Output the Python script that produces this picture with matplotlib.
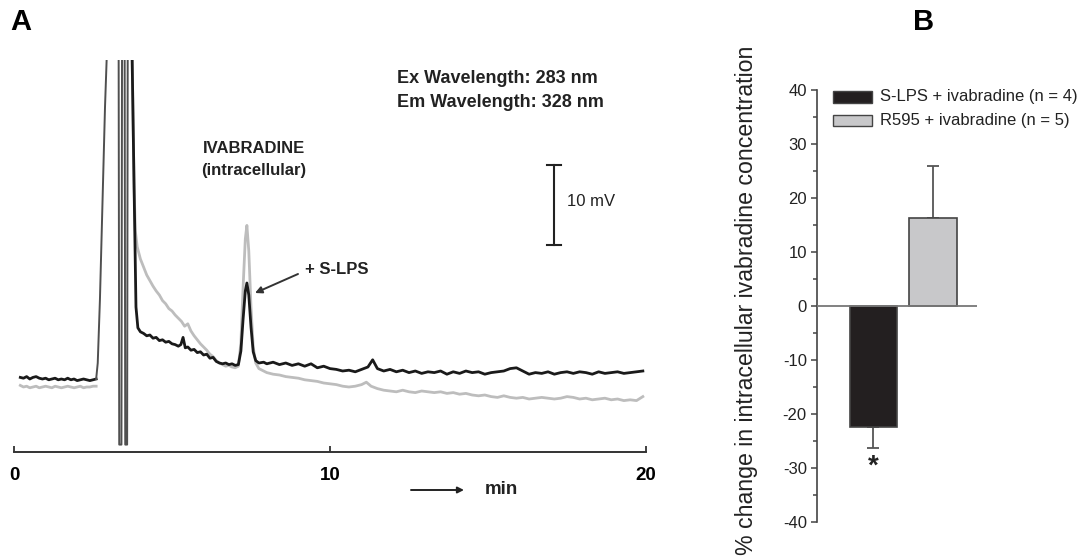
import matplotlib
matplotlib.use('Agg')
import numpy as np
import matplotlib.pyplot as plt
from matplotlib.patches import Rectangle

plt.rcParams['font.family'] = ['Liberation Sans', 'DejaVu Sans']
plt.rcParams['axes.unicode_minus'] = False

W, H = 1086, 558

# ---- panel A : chromatogram (time in min, signal in mV) ----
pre_t = [0.2, 0.3, 0.4, 0.5, 0.6, 0.7, 0.8, 0.9, 1.0, 1.1, 1.2, 1.3, 1.4,
         1.5, 1.6, 1.7, 1.8, 1.9, 2.0, 2.1, 2.2, 2.3, 2.4, 2.5, 2.6]
black_pre = [0.2, 0.1, 0.3, 0.0, 0.2, 0.3, 0.1, 0.0, 0.1, -0.1, 0.0, 0.1, -0.1,
             0.0, -0.1, 0.1, -0.1, 0.0, -0.2, -0.1, 0.0, -0.1, -0.2, -0.1, 0.0]
gray_pre = [-0.8, -1.0, -0.9, -1.1, -1.0, -0.9, -1.1, -1.0, -0.9, -1.0, -1.1, -0.9, -1.0,
            -1.1, -1.0, -0.9, -1.0, -1.1, -1.0, -0.9, -1.1, -1.0, -1.0, -0.9, -0.9]

# injection artefact (off scale)
inj_t = [2.6, 2.65, 2.72, 2.8, 2.88, 2.95, 3.0, 3.31, 3.33, 3.40, 3.42, 3.50,
         3.52, 3.58, 3.60, 3.66]
inj_mv = [0.0, 2.0, 10.0, 22.0, 34.0, 42.0, 45.0, 45.0, -8.2, -8.2, 45.0, 45.0,
          -8.2, -8.2, 45.0, 45.0]

black_t = [3.72, 3.80, 3.86, 3.92, 4.0, 4.1, 4.2, 4.3, 4.4, 4.5, 4.6, 4.7, 4.8, 4.9, 5.0,
           5.1, 5.2, 5.28, 5.35, 5.42, 5.5, 5.6, 5.7, 5.8, 5.9, 6.0, 6.1, 6.2, 6.3,
           6.4, 6.5, 6.6, 6.7, 6.8, 6.9, 7.0, 7.1, 7.18, 7.25, 7.32, 7.37, 7.43, 7.5,
           7.57, 7.65, 7.75, 7.9, 8.0, 8.2, 8.4, 8.6, 8.8, 9.0, 9.2, 9.4, 9.6, 9.8,
           10.0, 10.2, 10.4, 10.6, 10.8, 11.0, 11.2, 11.35, 11.5, 11.7, 11.9, 12.1,
           12.3, 12.5, 12.7, 12.9, 13.1, 13.3, 13.5, 13.7, 13.9, 14.1, 14.3, 14.5,
           14.7, 14.9, 15.1, 15.3, 15.5, 15.7, 15.9, 16.1, 16.3, 16.5, 16.7, 16.9,
           17.1, 17.3, 17.5, 17.7, 17.9, 18.1, 18.3, 18.5, 18.7, 18.9, 19.1, 19.3,
           19.5, 19.7, 19.9]
black_mv = [45.0, 24.0, 9.0, 6.4, 5.9, 5.7, 5.4, 5.5, 5.1, 5.2, 4.8, 4.9, 4.6, 4.7, 4.4,
            4.3, 4.1, 4.3, 5.2, 3.9, 4.0, 3.6, 3.7, 3.3, 3.4, 3.0, 3.1, 2.6, 2.7,
            2.2, 2.0, 1.9, 2.0, 1.8, 1.9, 1.7, 1.8, 3.5, 7.5, 11.0, 12.0, 10.5, 6.5,
            3.4, 2.3, 2.0, 2.1, 1.9, 2.1, 1.8, 2.0, 1.7, 1.9, 1.6, 1.9, 1.4, 1.6,
            1.3, 1.2, 1.0, 1.1, 0.9, 1.2, 1.5, 2.4, 1.3, 1.0, 1.2, 0.9,
            1.1, 0.8, 1.0, 0.7, 0.9, 0.8, 1.0, 0.6, 0.9, 0.7, 1.0, 0.8,
            0.9, 0.6, 0.8, 0.9, 1.0, 1.3, 1.4, 1.0, 0.6, 0.8, 0.7, 0.9,
            0.6, 0.8, 0.9, 0.7, 0.9, 0.8, 0.6, 0.9, 0.7, 0.8, 0.9, 0.7,
            0.8, 0.9, 1.0]

gray_t = [3.72, 3.80, 3.84, 3.9, 4.0, 4.1, 4.2, 4.3, 4.4, 4.5, 4.6, 4.7, 4.8, 4.9, 5.0,
          5.1, 5.2, 5.3, 5.4, 5.5, 5.6, 5.7, 5.8, 5.9, 6.0, 6.1, 6.2, 6.3, 6.4,
          6.5, 6.6, 6.7, 6.8, 6.9, 7.0, 7.1, 7.18, 7.25, 7.32, 7.37, 7.43, 7.5,
          7.57, 7.65, 7.75, 7.9, 8.0, 8.2, 8.4, 8.6, 8.8, 9.0, 9.2, 9.4, 9.6, 9.8,
          10.0, 10.2, 10.4, 10.6, 10.8, 11.0, 11.15, 11.3, 11.5, 11.7, 11.9, 12.1,
          12.3, 12.5, 12.7, 12.9, 13.1, 13.3, 13.5, 13.7, 13.9, 14.1, 14.3, 14.5,
          14.7, 14.9, 15.1, 15.3, 15.5, 15.7, 15.9, 16.1, 16.3, 16.5, 16.7, 16.9,
          17.1, 17.3, 17.5, 17.7, 17.9, 18.1, 18.3, 18.5, 18.7, 18.9, 19.1, 19.3,
          19.5, 19.7, 19.9]
gray_mv = [45.0, 24.0, 18.5, 16.5, 15.0, 14.0, 13.0, 12.3, 11.6, 11.0, 10.5, 9.8, 9.4, 8.8, 8.5,
           8.0, 7.6, 7.2, 6.6, 6.9, 6.0, 5.4, 4.9, 4.4, 4.0, 3.6, 3.1, 2.8, 2.3,
           2.0, 1.8, 1.6, 1.7, 1.5, 1.4, 1.6, 4.5, 11.5, 17.5, 19.2, 16.0, 9.0,
           4.0, 2.0, 1.3, 1.0, 0.8, 0.6, 0.5, 0.3, 0.2, 0.1, -0.1, -0.2, -0.3, -0.5,
           -0.6, -0.7, -0.9, -1.0, -0.9, -0.7, -0.4, -0.9, -1.2, -1.4, -1.5, -1.6,
           -1.4, -1.6, -1.7, -1.5, -1.6, -1.7, -1.6, -1.8, -1.7, -1.9, -1.8, -2.0,
           -2.1, -2.0, -2.2, -2.3, -2.1, -2.3, -2.4, -2.3, -2.5, -2.4, -2.3, -2.4,
           -2.5, -2.4, -2.2, -2.3, -2.5, -2.4, -2.6, -2.5, -2.4, -2.6, -2.5, -2.7,
           -2.6, -2.7, -2.2]

time_ticks = [0, 10, 20]

# ---- panel B : bar chart ----
groups = ['S-LPS + ivabradine (n = 4)', 'R595 + ivabradine (n = 5)']
pct_change = [-22.4, 16.3]
pct_sem = [3.9, 9.6]
bar_colors = ['#231f20', '#c8c8ca']
b_ticks = [-40, -30, -20, -10, 0, 10, 20, 30, 40]


def fx(px):
    return px / W


def fy(py):
    return 1 - py / H


fig = plt.figure(figsize=(W / 100, H / 100), dpi=100)

# panel A
axA = fig.add_axes([fx(14), fy(452), 632 / W, 392 / H])
axA.set_xlim(0, 20)
axA.set_ylim(-9.125, 39.875)
axA.plot(pre_t, gray_pre, color='#bdbdbd', lw=2.0, zorder=2)
axA.plot(gray_t, gray_mv, color='#bdbdbd', lw=2.0, zorder=2)
axA.plot(pre_t, black_pre, color='#1a1a1a', lw=2.0, zorder=3)
axA.plot(black_t, black_mv, color='#1a1a1a', lw=2.0, zorder=3)
axA.plot(inj_t, inj_mv, color='#505050', lw=1.4, zorder=4)

for s in ['left', 'right', 'top']:
    axA.spines[s].set_visible(False)
axA.spines['bottom'].set_color('#333333')
axA.spines['bottom'].set_linewidth(1.4)
axA.set_yticks([])
axA.set_xticks(time_ticks)
axA.set_xticklabels([str(t) for t in time_ticks], fontweight='bold', fontsize=13.5)
axA.tick_params(axis='x', direction='in', length=4, width=1.3, color='#333333', pad=11)

# scale bar 10 mV
sb_t = 17.09
axA.plot([sb_t, sb_t], [16.8, 26.8], color='#222222', lw=1.5)
axA.plot([sb_t - 0.23, sb_t + 0.23], [26.8, 26.8], color='#222222', lw=1.5)
axA.plot([sb_t - 0.23, sb_t + 0.23], [16.8, 16.8], color='#222222', lw=1.5)
fig.text(fx(567), fy(202), '10 mV', fontsize=12, va='center', ha='left', color='#222222')

fig.text(fx(397), fy(79), 'Ex Wavelength: 283 nm', fontsize=13, fontweight='bold',
         va='center', ha='left', color='#222222')
fig.text(fx(397), fy(102), 'Em Wavelength: 328 nm', fontsize=13, fontweight='bold',
         va='center', ha='left', color='#222222')
fig.text(fx(254), fy(148), 'IVABRADINE', fontsize=12, fontweight='bold',
         va='center', ha='center', color='#222222')
fig.text(fx(254), fy(170), '(intracellular)', fontsize=12, fontweight='bold',
         va='center', ha='center', color='#222222')
fig.text(fx(305), fy(270), '+ S-LPS', fontsize=12, fontweight='bold',
         va='center', ha='left', color='#222222')
axA.annotate('', xy=(fx(255), fy(293)), xytext=(fx(298), fy(274)),
             xycoords='figure fraction', textcoords='figure fraction',
             arrowprops=dict(arrowstyle='-|>', color='#333333', lw=1.4,
                             mutation_scale=10, shrinkA=0, shrinkB=0))
axA.annotate('', xy=(fx(464), fy(490)), xytext=(fx(411), fy(490)),
             xycoords='figure fraction', textcoords='figure fraction',
             arrowprops=dict(arrowstyle='-|>', color='#222222', lw=1.4,
                             mutation_scale=9, shrinkA=0, shrinkB=0))
fig.text(fx(485), fy(489), 'min', fontsize=13.5, fontweight='bold',
         va='center', ha='left', color='#222222')

fig.text(fx(21), fy(22), 'A', fontsize=21, fontweight='bold', va='center', ha='center')
fig.text(fx(924), fy(22), 'B', fontsize=21, fontweight='bold', va='center', ha='center')

# panel B
axB = fig.add_axes([fx(817), fy(522), 160 / W, 432 / H])
axB.set_xlim(0, 3.4)
axB.set_ylim(-40, 40)
bar_x = [1.2, 2.47]
axB.bar(bar_x, pct_change, width=[1.0, 1.02], color=bar_colors,
        edgecolor='#444444', linewidth=1.2, zorder=2)
axB.errorbar([bar_x[0]], [pct_change[0]], yerr=[[pct_sem[0]], [0]], fmt='none',
             ecolor='#555555', elinewidth=1.3, capsize=4, capthick=1.3, zorder=1)
axB.errorbar([bar_x[1]], [pct_change[1]], yerr=[[0], [pct_sem[1]]], fmt='none',
             ecolor='#555555', elinewidth=1.3, capsize=4.5, capthick=1.3, zorder=1)
axB.axhline(0, color='#777777', lw=1.3, zorder=3)
axB.text(bar_x[0], pct_change[0] - pct_sem[0] - 1.0, '*', fontsize=20, fontweight='bold',
         ha='center', va='top', color='#222222')

for s in ['right', 'top', 'bottom']:
    axB.spines[s].set_visible(False)
axB.spines['left'].set_color('#444444')
axB.spines['left'].set_linewidth(1.2)
axB.set_xticks([])
axB.set_yticks(b_ticks)
axB.set_yticklabels([str(v) for v in b_ticks], fontsize=12, color='#222222')
axB.set_yticks(np.arange(-35, 40, 10), minor=True)
axB.tick_params(axis='y', which='major', direction='out', length=4.3, width=1.1,
                color='#444444', pad=3)
axB.tick_params(axis='y', which='minor', direction='out', length=3, width=1.1,
                color='#444444')

fig.text(fx(746), fy(300), '% change in intracellular ivabradine concentration',
         fontsize=16.7, rotation=90, va='center', ha='center', color='#222222')

# legend drawn by hand
leg_y = [97, 121]
for y, c, lab in zip(leg_y, bar_colors, groups):
    fig.add_artist(Rectangle((fx(833), fy(y + 5.5)), 39 / W, 11 / H, transform=fig.transFigure,
                             facecolor=c, edgecolor='#444444', lw=1.0))
    fig.text(fx(880), fy(y), lab, fontsize=12, va='center', ha='left', color='#222222')

fig.savefig('out.png', dpi=100)
